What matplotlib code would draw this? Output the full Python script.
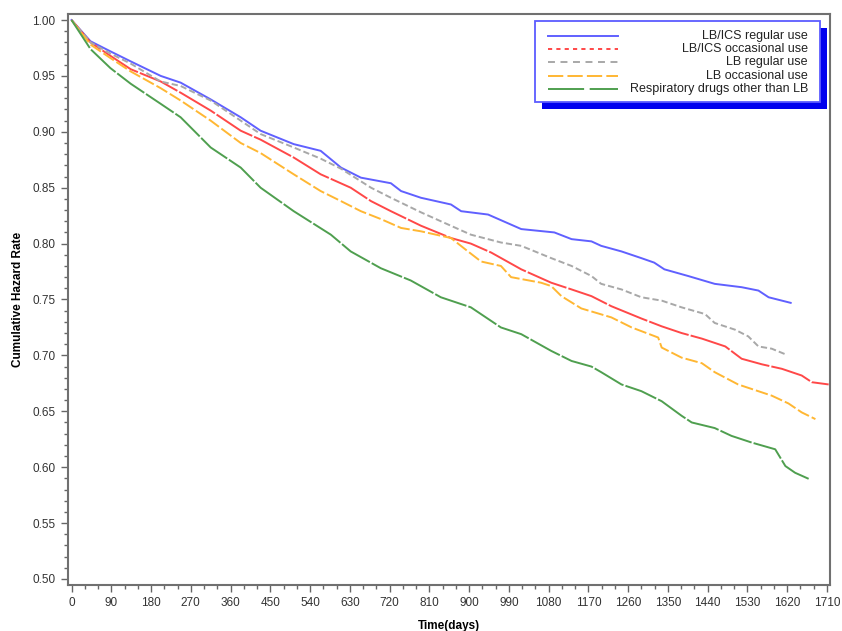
import numpy as np
import matplotlib
matplotlib.use("Agg")
import matplotlib.pyplot as plt
from matplotlib.patches import Rectangle
from matplotlib.ticker import MultipleLocator, FormatStrFormatter

plt.rcParams["font.family"] = ["Liberation Sans", "DejaVu Sans"]
plt.rcParams["lines.scale_dashes"] = False

# values (days, survival)
blue_days = [0, 43, 88, 134, 202, 247, 315, 383, 428, 503, 564, 610, 655, 723, 746, 791, 859, 882,
             943, 1018, 1093, 1132, 1177, 1199, 1245, 1290, 1319, 1342, 1396, 1456, 1517, 1555, 1578, 1628]
blue_vals = [1.0, 0.981, 0.972, 0.963, 0.950, 0.944, 0.929, 0.913, 0.901, 0.889, 0.883, 0.868, 0.859,
             0.854, 0.847, 0.841, 0.835, 0.829, 0.826, 0.813, 0.810, 0.804, 0.802, 0.798, 0.793, 0.787,
             0.783, 0.777, 0.771, 0.764, 0.761, 0.758, 0.752, 0.747]

red_days = [0, 43, 88, 134, 202, 247, 315, 383, 428, 503, 564, 632, 678, 723, 791, 859, 904, 950,
            1018, 1086, 1132, 1177, 1222, 1290, 1336, 1381, 1427, 1480, 1517, 1563, 1608, 1653, 1676, 1714]
red_vals = [1.0, 0.980, 0.968, 0.956, 0.945, 0.935, 0.919, 0.901, 0.893, 0.877, 0.862, 0.850, 0.838,
            0.829, 0.816, 0.805, 0.800, 0.792, 0.777, 0.765, 0.759, 0.753, 0.744, 0.733, 0.726, 0.720,
            0.715, 0.708, 0.697, 0.692, 0.688, 0.682, 0.676, 0.674]

gray_days = [0, 43, 88, 134, 202, 247, 315, 383, 428, 503, 564, 610, 678, 723, 791, 836, 904, 972,
             1018, 1086, 1132, 1177, 1199, 1245, 1290, 1336, 1381, 1434, 1456, 1502, 1532, 1555, 1585, 1616]
gray_vals = [1.0, 0.980, 0.970, 0.961, 0.945, 0.941, 0.928, 0.910, 0.898, 0.886, 0.876, 0.867, 0.850,
             0.841, 0.828, 0.820, 0.808, 0.801, 0.798, 0.787, 0.780, 0.771, 0.764, 0.759, 0.752, 0.749,
             0.743, 0.737, 0.729, 0.723, 0.717, 0.708, 0.706, 0.701]

orange_days = [0, 43, 88, 134, 202, 247, 315, 383, 428, 503, 564, 610, 655, 700, 746, 791, 859, 891,
               927, 972, 995, 1063, 1086, 1109, 1154, 1222, 1268, 1328, 1336, 1381, 1427, 1456, 1509,
               1585, 1623, 1653, 1684]
orange_vals = [1.0, 0.978, 0.966, 0.954, 0.939, 0.928, 0.910, 0.890, 0.881, 0.862, 0.847, 0.838, 0.829,
               0.822, 0.814, 0.811, 0.805, 0.795, 0.784, 0.780, 0.770, 0.765, 0.762, 0.753, 0.742, 0.734,
               0.725, 0.716, 0.707, 0.698, 0.693, 0.685, 0.674, 0.664, 0.657, 0.649, 0.643]

green_days = [0, 43, 88, 134, 202, 247, 315, 383, 428, 503, 587, 632, 700, 768, 836, 904, 972, 1018,
              1086, 1132, 1177, 1199, 1245, 1290, 1336, 1381, 1404, 1456, 1494, 1540, 1593, 1616, 1638, 1672]
green_vals = [1.0, 0.974, 0.957, 0.943, 0.925, 0.913, 0.886, 0.868, 0.850, 0.829, 0.808, 0.793, 0.778,
              0.767, 0.752, 0.743, 0.725, 0.719, 0.704, 0.695, 0.690, 0.685, 0.674, 0.668, 0.659, 0.646,
              0.640, 0.635, 0.628, 0.622, 0.616, 0.601, 0.595, 0.589]

labels = ["LB/ICS regular use", "LB/ICS occasional use", "LB regular use",
          "LB occasional use", "Respiratory drugs other than LB"]

c_blue = "#6060ff"
c_red = "#ff4848"
c_gray = "#a8a8a8"
c_orange = "#ffb733"
c_green = "#4f9f4f"
colors = [c_blue, c_red, c_gray, c_orange, c_green]
# dash patterns: in plot / in legend sample
plot_dashes = [None, (30, 1.5), (4.5, 2.2), (9, 2.2), (24, 1.5)]
leg_dashes = [None, (3, 3), (5, 4), (11, 3), (26, 4)]

fig = plt.figure(figsize=(8.42, 6.31), dpi=100)
ax = fig.add_axes([68 / 842, 46 / 631, 762 / 842, 571 / 631])

series = [(blue_days, blue_vals), (red_days, red_vals), (gray_days, gray_vals),
          (orange_days, orange_vals), (green_days, green_vals)]
for (d, v), c, ds in zip(series, colors, plot_dashes):
    line, = ax.plot(d, v, color=c, lw=1.4)
    if ds is not None:
        line.set_dashes(ds)

ax.set_xlim(-8, 1717)
ax.set_ylim(0.4946, 1.0054)
ax.xaxis.set_major_locator(MultipleLocator(90))
ax.xaxis.set_minor_locator(MultipleLocator(30))
ax.yaxis.set_major_locator(MultipleLocator(0.05))
ax.yaxis.set_minor_locator(MultipleLocator(0.01))
ax.yaxis.set_major_formatter(FormatStrFormatter("%.2f"))
ax.tick_params(which="major", direction="out", length=5, width=1, color="#666666",
               labelsize=8.5, labelcolor="#333333", pad=4)
ax.tick_params(which="minor", direction="out", length=3, width=1, color="#666666")
for sp in ax.spines.values():
    sp.set_color("#707070")
    sp.set_linewidth(1.5)

ax.set_xlabel("Time(days)", fontsize=8.5, fontweight="bold")
ax.set_ylabel("Cumulative Hazard Rate", fontsize=8.5, fontweight="bold")
ax.xaxis.set_label_coords(0.5, -0.062)
ax.yaxis.set_label_coords(-0.058, 0.5)


# legend drawn by hand (SAS style: right aligned text, blue drop shadow)
def px(x, y):
    return (x - 68) / 762, (585 - y) / 571


x0, y1 = px(535, 21)
x1, y0 = px(820, 102)
sx, sy = 7 / 762, 7 / 571
ax.add_patch(Rectangle((x0 + sx, y0 - sy), x1 - x0, y1 - y0, transform=ax.transAxes,
                       facecolor="#0000ee", edgecolor="none", zorder=5))
ax.add_patch(Rectangle((x0, y0), x1 - x0, y1 - y0, transform=ax.transAxes,
                       facecolor="white", edgecolor="#5c5cff", lw=1.3, zorder=6))
rows = [35.7, 49.0, 62.3, 75.7, 89.0]
for lab, c, ds, ry in zip(labels, colors, leg_dashes, rows):
    la, yy = px(548, ry)
    lb, _ = px(618, ry)
    ln, = ax.plot([la, lb], [yy, yy], transform=ax.transAxes, color=c, lw=1.4, zorder=7)
    if ds is not None:
        ln.set_dashes(ds)
    tx, _ = px(808, ry)
    ax.text(tx, yy, lab, transform=ax.transAxes, ha="right", va="center",
            fontsize=9, color="#222222", zorder=7)

fig.savefig("out.png", dpi=100)
